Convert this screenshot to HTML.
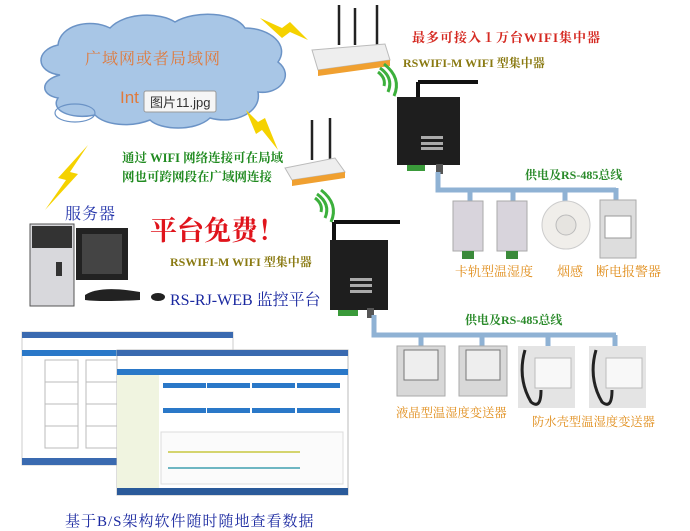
<!DOCTYPE html>
<html><head><meta charset="utf-8"><style>
html,body{margin:0;padding:0;background:#fff;}
svg{display:block}
text{font-family:"Liberation Sans","Noto Sans CJK SC",sans-serif;}
.s{font-family:"Liberation Serif","Noto Serif CJK SC",serif;}
</style></head><body>
<svg width="690" height="531" viewBox="0 0 690 531" xmlns="http://www.w3.org/2000/svg">
<path d="M60,75 C35,72 35,50 58,45 C60,25 90,18 110,28 C125,12 160,12 175,22 C195,10 235,12 245,28 C270,28 290,45 278,62 C295,75 280,95 258,92 C262,112 235,125 210,118 C195,132 160,130 150,120 C130,128 105,125 95,115 C70,120 50,110 58,98 C40,95 40,80 60,75 Z" fill="#a8c6e6" stroke="#6b93c6" stroke-width="1.5"/>
<ellipse cx="75" cy="113" rx="20" ry="9" fill="none" stroke="#6b93c6" stroke-width="1.2"/>
<text x="85" y="64" font-size="16" fill="#e07a3c" class="s" letter-spacing="1">广域网或者局域网</text>
<text x="120" y="103" font-size="17" fill="#e07a3c">Int</text>
<rect x="144" y="91" width="72" height="21" rx="2" fill="#f6f6f6" stroke="#999"/>
<text x="150" y="107" font-size="13" fill="#333">图片11.jpg</text>
<g fill="#f5d200">
<polygon points="260,18 282,28 290,22 308,40 290,32 282,38"/>
<polygon points="246,110 258,122 265,118 278,150 262,130 256,134"/>
<polygon points="88,145 70,172 78,174 45,210 66,180 58,178"/>
</g>
<g>
<line x1="339" y1="5" x2="339" y2="45" stroke="#222" stroke-width="2.5"/>
<line x1="355" y1="8" x2="355" y2="45" stroke="#222" stroke-width="2.5"/>
<line x1="377" y1="5" x2="377" y2="50" stroke="#222" stroke-width="2.5"/>
<polygon points="312,50 385,44 390,60 318,70" fill="#eee" stroke="#bbb"/>
<polygon points="318,70 390,60 390,66 318,76" fill="#f0a030"/>
<line x1="312" y1="120" x2="312" y2="160" stroke="#222" stroke-width="2.5"/>
<line x1="330" y1="118" x2="330" y2="162" stroke="#222" stroke-width="2.5"/>
<polygon points="285,168 335,158 345,172 292,180" fill="#eee" stroke="#bbb"/>
<polygon points="292,180 345,172 345,178 292,186" fill="#f0a030"/>
</g>
<g fill="none" stroke="#3cb03c" stroke-width="3">
<path d="M378,72 q8,6 6,14"/><path d="M380,68 q14,10 8,24"/><path d="M384,64 q18,14 10,32"/>
<path d="M315,198 q8,6 6,14"/><path d="M317,194 q14,10 8,24"/><path d="M321,190 q18,14 10,32"/>
</g>
<text x="412" y="42" font-size="13" font-weight="bold" fill="#d52a22" class="s" letter-spacing="1">最多可接入１万台WIFI集中器</text>
<text x="403" y="67" font-size="12" font-weight="bold" fill="#8a7a12" class="s">RSWIFI-M WIFI 型集中器</text>
<line x1="418" y1="98" x2="418" y2="82" stroke="#111" stroke-width="4"/>
<line x1="418" y1="82" x2="478" y2="82" stroke="#111" stroke-width="4"/>
<rect x="397" y="97" width="63" height="68" fill="#1e1e1e"/>
<rect x="421" y="136" width="22" height="3" fill="#aaa"/><rect x="421" y="142" width="22" height="3" fill="#aaa"/><rect x="421" y="147" width="22" height="3" fill="#aaa"/>
<rect x="407" y="165" width="18" height="6" fill="#3a9a3a"/>
<rect x="436" y="164" width="7" height="10" fill="#555"/>
<g fill="none" stroke="#8fb2d4" stroke-width="5">
<path d="M438,172 V190 H616"/>
<line x1="470" y1="190" x2="470" y2="202"/><line x1="513" y1="190" x2="513" y2="202"/>
<line x1="565" y1="190" x2="565" y2="202"/><line x1="616" y1="188" x2="616" y2="202"/>
</g>
<text x="525" y="179" font-size="12" font-weight="bold" fill="#2a8a2a" class="s">供电及RS-485总线</text>
<rect x="453" y="201" width="30" height="50" fill="#d8d4dc" stroke="#aaa"/>
<rect x="497" y="201" width="30" height="50" fill="#d8d4dc" stroke="#aaa"/>
<rect x="462" y="251" width="12" height="8" fill="#3a8a3a"/><rect x="506" y="251" width="12" height="8" fill="#3a8a3a"/>
<circle cx="566" cy="225" r="24" fill="#f0eeea" stroke="#ccc"/>
<circle cx="566" cy="225" r="10" fill="#e6e4e0" stroke="#bbb"/>
<rect x="600" y="200" width="36" height="58" fill="#ddd" stroke="#aaa"/>
<rect x="605" y="216" width="26" height="22" fill="#fff" stroke="#999"/>
<text x="455" y="276" font-size="13" fill="#e08c18" class="s">卡轨型温湿度</text>
<text x="557" y="276" font-size="13" fill="#e08c18" class="s">烟感</text>
<text x="596" y="276" font-size="13" fill="#e08c18" class="s">断电报警器</text>
<text x="122" y="162" font-size="12.5" font-weight="bold" fill="#1f8a1f" class="s">通过 WIFI 网络连接可在局域</text>
<text x="122" y="181" font-size="12.5" font-weight="bold" fill="#1f8a1f" class="s">网也可跨网段在广域网连接</text>
<text x="65" y="219" font-size="16" fill="#2233aa" class="s" letter-spacing="1">服务器</text>
<text x="150" y="240" font-size="27" font-weight="bold" fill="#e0141c" class="s">平台免费！</text>
<text x="170" y="266" font-size="12" font-weight="bold" fill="#8a7a12" class="s">RSWIFI-M WIFI 型集中器</text>
<rect x="30" y="224" width="44" height="82" fill="#d8d8dc" stroke="#555"/>
<rect x="32" y="226" width="40" height="22" fill="#333"/>
<rect x="56" y="262" width="6" height="14" fill="#333"/>
<rect x="76" y="228" width="52" height="52" fill="#222"/>
<rect x="82" y="234" width="40" height="40" fill="#444"/>
<path d="M85,295 Q100,285 140,292 L140,300 Q100,302 85,300Z" fill="#222"/>
<ellipse cx="158" cy="297" rx="7" ry="4" fill="#222"/>
<text x="170" y="305" font-size="16" fill="#1a28a0" class="s">RS-RJ-WEB 监控平台</text>
<line x1="334" y1="241" x2="334" y2="222" stroke="#111" stroke-width="4"/>
<line x1="334" y1="222" x2="400" y2="222" stroke="#111" stroke-width="4"/>
<rect x="330" y="240" width="58" height="70" fill="#1e1e1e"/>
<rect x="350" y="278" width="22" height="3" fill="#aaa"/><rect x="350" y="284" width="22" height="3" fill="#aaa"/><rect x="350" y="290" width="22" height="3" fill="#aaa"/>
<rect x="338" y="310" width="20" height="6" fill="#3a9a3a"/>
<rect x="367" y="308" width="7" height="10" fill="#555"/>
<g fill="none" stroke="#8fb2d4" stroke-width="5">
<path d="M374,315 V335 H616"/>
<line x1="421" y1="335" x2="421" y2="346"/><line x1="482" y1="335" x2="482" y2="346"/>
<line x1="548" y1="335" x2="548" y2="346"/><line x1="615" y1="335" x2="615" y2="346"/>
</g>
<text x="465" y="324" font-size="12" font-weight="bold" fill="#2a8a2a" class="s">供电及RS-485总线</text>
<rect x="397" y="346" width="48" height="50" fill="#d8d8d8" stroke="#aaa"/><rect x="404" y="350" width="34" height="30" fill="#eee" stroke="#777"/>
<rect x="459" y="346" width="48" height="50" fill="#d8d8d8" stroke="#aaa"/><rect x="466" y="350" width="34" height="30" fill="#eee" stroke="#777"/>
<rect x="518" y="346" width="57" height="62" fill="#e4e4e4"/><rect x="535" y="358" width="36" height="30" fill="#f8f8f8" stroke="#bbb"/>
<rect x="589" y="346" width="57" height="62" fill="#e4e4e4"/><rect x="606" y="358" width="36" height="30" fill="#f8f8f8" stroke="#bbb"/>
<path d="M525,350 q-8,28 6,52 q10,8 10,-12" fill="none" stroke="#222" stroke-width="3"/>
<path d="M596,350 q-8,28 6,52 q10,8 10,-12" fill="none" stroke="#222" stroke-width="3"/>
<text x="396" y="417" font-size="12.3" fill="#e08c18" class="s">液晶型温湿度变送器</text>
<text x="532" y="426" font-size="12.3" fill="#e08c18" class="s">防水壳型温湿度变送器</text>
<rect x="22" y="332" width="211" height="133" fill="#fff" stroke="#ccc"/>
<rect x="22" y="332" width="211" height="6" fill="#3a6ab0"/>
<rect x="22" y="350" width="211" height="6" fill="#2a78c8"/>
<rect x="22" y="458" width="95" height="7" fill="#3a6ab0"/>
<g fill="#fff" stroke="#bbb"><rect x="45" y="360" width="33" height="22"/><rect x="86" y="360" width="33" height="22"/><rect x="45" y="382" width="33" height="22"/><rect x="86" y="382" width="33" height="22"/><rect x="45" y="404" width="33" height="22"/><rect x="86" y="404" width="33" height="22"/><rect x="45" y="426" width="33" height="22"/><rect x="86" y="426" width="33" height="22"/></g>
<rect x="117" y="350" width="231" height="145" fill="#fff" stroke="#bbb"/>
<rect x="117" y="350" width="231" height="6" fill="#3a6ab0"/>
<rect x="117" y="369" width="231" height="6" fill="#2a78c8"/>
<rect x="117" y="375" width="42" height="113" fill="#f0f4e0"/>
<g fill="#2a78c8"><rect x="163" y="383" width="43" height="5"/><rect x="207" y="383" width="43" height="5"/><rect x="252" y="383" width="43" height="5"/><rect x="297" y="383" width="43" height="5"/><rect x="163" y="408" width="43" height="5"/><rect x="207" y="408" width="43" height="5"/><rect x="252" y="408" width="43" height="5"/><rect x="297" y="408" width="43" height="5"/></g>
<rect x="161" y="432" width="182" height="52" fill="#fbfbfb" stroke="#ddd"/>
<path d="M168,452 H300" stroke="#c8c840" stroke-width="1.5"/>
<path d="M168,468 H300" stroke="#40a0b0" stroke-width="1.5"/>
<rect x="117" y="488" width="231" height="7" fill="#2a5a9a"/>
<text x="65" y="526" font-size="15" fill="#1a28a0" class="s" letter-spacing="1">基于B/S架构软件随时随地查看数据</text>
</svg>
</body></html>
